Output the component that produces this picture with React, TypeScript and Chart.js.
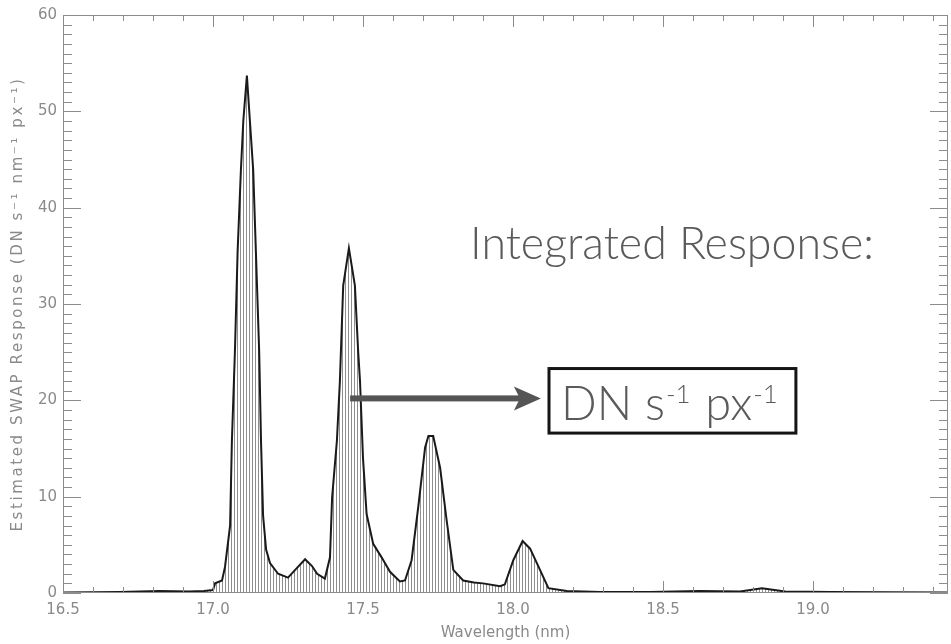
import React, { useEffect, useRef } from "react";
import { Chart, registerables } from "chart.js";

Chart.register(...registerables);

// ---- data ----
const wavelengths = [
  16.5, 16.69, 16.82, 16.92, 16.97, 17.0, 17.007, 17.03, 17.04, 17.057, 17.063, 17.073, 17.082, 17.093,
  17.101, 17.113, 17.123, 17.134, 17.143, 17.154, 17.16, 17.167, 17.177, 17.19, 17.217, 17.25, 17.277,
  17.307, 17.33, 17.347, 17.373, 17.39, 17.397, 17.413, 17.423, 17.434, 17.453, 17.473, 17.484, 17.49,
  17.5, 17.512, 17.534, 17.562, 17.59, 17.623, 17.64, 17.662, 17.684, 17.707, 17.718, 17.734, 17.757,
  17.779, 17.801, 17.834, 17.87, 17.9, 17.957, 17.973, 18.001, 18.032, 18.057, 18.09, 18.118, 18.179,
  18.29, 18.457, 18.62, 18.757, 18.83, 18.907, 19.057, 19.45,
];
const response = [
  0.05, 0.1, 0.2, 0.15, 0.2, 0.3, 1.0, 1.3, 2.7, 7.0, 15.8, 25.0, 35.4, 43.9, 49.0, 53.7, 49.0, 43.9,
  35.4, 25.0, 15.8, 8.0, 4.5, 3.1, 2.0, 1.6, 2.5, 3.5, 2.8, 2.0, 1.5, 3.7, 9.9, 15.8, 22.0, 31.9, 35.8,
  31.9, 25.0, 22.0, 14.0, 8.2, 5.1, 3.7, 2.2, 1.2, 1.3, 3.4, 8.9, 15.1, 16.3, 16.3, 13.0, 7.5, 2.4, 1.3,
  1.1, 1.0, 0.7, 0.9, 3.4, 5.4, 4.6, 2.4, 0.5, 0.2, 0.1, 0.1, 0.2, 0.15, 0.5, 0.15, 0.1, 0.05,
];
const xTickLabels = ["16.5", "17.0", "17.5", "18.0", "18.5", "19.0"];
const yTickLabels = ["0", "10", "20", "30", "40", "50", "60"];
const xTitle = "Wavelength (nm)";
const yTitle = "Estimated SWAP Response (DN s\u207B\u00B9 nm\u207B\u00B9 px\u207B\u00B9)";
const annotationTitle = "Integrated Response:";
const unitParts = ["DN s", "-1", " px", "-1"];

const X_MIN = 16.5;
const X_MAX = 19.45;
const Y_MIN = 0;
const Y_MAX = 60;

const AXIS_GRAY = "#8c8c8c";
const TEXT_GRAY = "#8a8a8a";
const ANNOT_GRAY = "#5a5a5a";
const SANS = '"DejaVu Sans", sans-serif';

const frameTicks = {
  id: "frameTicks",
  afterDatasetsDraw(chart: any) {
    const { ctx, chartArea: a, scales } = chart;
    const x = scales.x;
    const y = scales.y;
    ctx.save();
    ctx.strokeStyle = AXIS_GRAY;
    ctx.lineWidth = 1;
    ctx.strokeRect(a.left + 0.5, a.top + 0.5, a.right - a.left - 1, a.bottom - a.top - 1);
    ctx.beginPath();
    for (let i = 0; ; i++) {
      const v = X_MIN + i * 0.1;
      if (v > X_MAX + 1e-9) break;
      const len = i % 5 === 0 ? 12 : 6;
      const px = Math.round(x.getPixelForValue(v)) + 0.5;
      ctx.moveTo(px, a.bottom);
      ctx.lineTo(px, a.bottom - len);
      ctx.moveTo(px, a.top);
      ctx.lineTo(px, a.top + len);
    }
    for (let i = Y_MIN; i <= Y_MAX; i++) {
      const len = i % 10 === 0 ? 18 : 9;
      const py = Math.round(y.getPixelForValue(i)) + 0.5;
      ctx.moveTo(a.left, py);
      ctx.lineTo(a.left + len, py);
      ctx.moveTo(a.right, py);
      ctx.lineTo(a.right - len, py);
    }
    ctx.stroke();

    // y axis title (wide, letter-spaced like the original plotting font)
    ctx.font = `15px ${SANS}`;
    const target = 455;
    const w0 = ctx.measureText(yTitle).width;
    const n = Array.from(yTitle).length;
    const spacing = Math.max(0, (target - w0) / n);
    (ctx as any).letterSpacing = `${spacing.toFixed(2)}px`;
    ctx.fillStyle = TEXT_GRAY;
    ctx.textAlign = "center";
    ctx.textBaseline = "middle";
    ctx.translate(18, (a.top + a.bottom) / 2);
    ctx.rotate(-Math.PI / 2);
    ctx.fillText(yTitle, 0, 0);
    ctx.restore();
  },
};

const fitFont = (ctx: CanvasRenderingContext2D, family: string, text: string, width: number) => {
  ctx.font = `300 100px ${family}`;
  const w = ctx.measureText(text).width;
  return (100 * width) / w;
};

const annotation = {
  id: "annotation",
  afterDraw(chart: any) {
    const { ctx, scales } = chart;
    const X = (v: number) => scales.x.getPixelForValue(v);
    const Y = (v: number) => scales.y.getPixelForValue(v);
    const fam = 'Lato, "Open Sans", sans-serif';
    ctx.save();
    // title text
    const tx = X(17.857);
    const ty = Y(34.7);
    const tSize = fitFont(ctx, fam, annotationTitle, 404);
    ctx.font = `300 ${tSize}px ${fam}`;
    ctx.fillStyle = ANNOT_GRAY;
    ctx.textBaseline = "alphabetic";
    ctx.textAlign = "left";
    ctx.fillText(annotationTitle, tx, ty);

    // box
    const bl = X(18.12);
    const br = X(18.943);
    const bt = Y(23.3);
    const bb = Y(16.6);
    ctx.lineWidth = 3;
    ctx.strokeStyle = "#151515";
    ctx.strokeRect(bl, bt, br - bl, bb - bt);

    // unit text with superscripts
    const F = 47;
    const sup = F * 0.55;
    let cx = bl + 12;
    const base = bb - 13;
    ctx.fillStyle = ANNOT_GRAY;
    unitParts.forEach((p, i) => {
      if (i % 2 === 0) {
        ctx.font = `300 ${F}px ${fam}`;
        ctx.fillText(p, cx, base);
        cx += ctx.measureText(p).width;
      } else {
        ctx.font = `300 ${sup}px ${fam}`;
        cx += 1;
        ctx.fillText(p, cx, base - F * 0.36);
        cx += ctx.measureText(p).width + 2;
      }
    });

    // arrow
    const ax0 = X(17.457);
    const ax1 = X(18.093);
    const ay = Y(20.2);
    ctx.fillStyle = "#555555";
    ctx.fillRect(ax0, ay - 3, ax1 - ax0 - 20, 6);
    ctx.beginPath();
    ctx.moveTo(ax1, ay);
    ctx.lineTo(ax1 - 27, ay - 12);
    ctx.lineTo(ax1 - 21, ay);
    ctx.lineTo(ax1 - 27, ay + 12);
    ctx.closePath();
    ctx.fill();
    ctx.restore();
  },
};

export default function App() {
  const canvasRef = useRef<HTMLCanvasElement | null>(null);

  useEffect(() => {
    const canvas = canvasRef.current;
    if (!canvas) return;
    const ctx = canvas.getContext("2d");
    if (!ctx) return;

    const pc = document.createElement("canvas");
    pc.width = 3;
    pc.height = 4;
    const pctx = pc.getContext("2d")!;
    pctx.fillStyle = "#ffffff";
    pctx.fillRect(0, 0, 3, 4);
    pctx.fillStyle = "#8e8e8e";
    pctx.fillRect(0, 0, 1, 4);
    const pattern = ctx.createPattern(pc, "repeat");

    const tickFont = { family: SANS, size: 15 };

    const chart = new Chart(ctx, {
      type: "line",
      data: {
        datasets: [
          {
            data: wavelengths.map((w, i) => ({ x: w, y: response[i] })),
            borderColor: "#1a1a1a",
            borderWidth: 2,
            pointRadius: 0,
            tension: 0,
            fill: "origin",
            backgroundColor: pattern as any,
          },
        ],
      },
      options: {
        animation: false,
        responsive: true,
        maintainAspectRatio: false,
        layout: { padding: { left: 0, top: 11, right: 3, bottom: 0 } },
        plugins: { legend: { display: false }, tooltip: { enabled: false } },
        scales: {
          x: {
            type: "linear",
            min: X_MIN,
            max: X_MAX,
            afterFit: (s: any) => {
              s.height = 51;
            },
            grid: { display: false, drawTicks: false },
            border: { display: false },
            ticks: {
              stepSize: 0.5,
              includeBounds: false,
              autoSkip: false,
              maxRotation: 0,
              padding: 8,
              color: TEXT_GRAY,
              font: tickFont,
              callback: (v: any) => {
                const idx = Math.round((Number(v) - X_MIN) / 0.5);
                return xTickLabels[idx] ?? "";
              },
            },
            title: {
              display: true,
              text: xTitle,
              color: TEXT_GRAY,
              font: tickFont,
              padding: { top: 0, bottom: 2 },
            },
          },
          y: {
            type: "linear",
            min: Y_MIN,
            max: Y_MAX,
            afterFit: (s: any) => {
              s.width = 63;
            },
            grid: { display: false, drawTicks: false },
            border: { display: false },
            ticks: {
              stepSize: 10,
              padding: 6,
              color: TEXT_GRAY,
              font: tickFont,
              callback: (v: any) => yTickLabels[Math.round(Number(v) / 10)] ?? "",
            },
            title: { display: false },
          },
        },
      },
      plugins: [frameTicks, annotation],
    });

    return () => chart.destroy();
  }, []);

  return (
    <div style={{ position: "absolute", left: 0, top: 0, width: 951, height: 644, background: "#fff" }}>
      <canvas ref={canvasRef} />
    </div>
  );
}
